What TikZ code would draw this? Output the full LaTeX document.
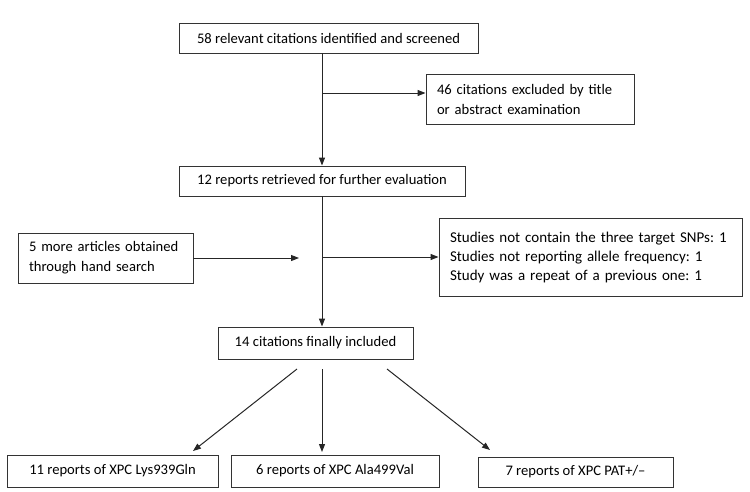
\documentclass[tikz,border=0pt]{standalone}
\usepackage{fontspec}
\setmainfont{Carlito}
\usetikzlibrary{arrows.meta}
\frenchspacing
\tikzset{
  box/.style={draw=black!80, line width=0.9pt, inner sep=0pt, align=center, font=\fontsize{14.6}{20}\selectfont},
  lbox/.style={draw=black!80, line width=0.9pt, inner xsep=11pt, inner ysep=0pt, font=\fontsize{14.6}{20}\selectfont},
  link/.style={->, draw=black!85, line width=1pt}
}
\begin{document}
\begin{tikzpicture}[>={Stealth[length=8pt,width=6pt,inset=0pt]},x=1pt,y=-1pt]
\useasboundingbox (0,0) rectangle (750,491);
\node[box, minimum width=299pt, minimum height=30pt] (n58) at (328.5,38) {58 relevant citations identified and screened};
\node[lbox, text width=186pt, align=left, minimum height=50pt] (n46) at (530,99) {\makebox[186pt][s]{46 citations excluded by title}\\or abstract examination};
\node[box, minimum width=286pt, minimum height=30pt] (n12) at (322,181) {12 reports retrieved for further evaluation};
\node[lbox, text width=153pt, align=left, minimum height=50pt] (nhand) at (105.5,258) {5 more articles obtained\\through hand search};
\node[lbox, text width=281pt, align=left, minimum height=78pt, font=\fontsize{15}{19}\selectfont] (nexcl) at (590.5,257) {Studies not contain the three target SNPs: 1\\Studies not reporting allele frequency: 1\\Study was a repeat of a previous one: 1};
\node[box, minimum width=195pt, minimum height=32pt] (n14) at (315.5,343) {14 citations finally included};
\node[box, minimum width=211pt, minimum height=32pt] (nlys) at (112.5,471) {11 reports of XPC Lys939Gln};
\node[box, minimum width=208pt, minimum height=32pt] (nala) at (335,471) {6 reports of XPC Ala499Val};
\node[box, minimum width=195pt, minimum height=30pt] (npat) at (575.5,472) {7 reports of XPC PAT+/–};
\coordinate (j1) at (322,93);
\coordinate (j2) at (322,257);
\coordinate (h) at (299,258);
\coordinate (s1) at (297,369);
\coordinate (s2) at (322,369);
\coordinate (s3) at (387,369);
\coordinate (t1) at (193,451);
\coordinate (t2) at (322,452);
\coordinate (t3) at (490,450);
\draw[link] (n58.south -| n12) -- (n12.north);
\draw[link] (j1) -- (j1 -| n46.west);
\draw[link] (n12.south) -- (n12.south |- n14.north);
\draw[link] (j2) -- (nexcl.west);
\draw[link] (nhand.east) -- (h);
\foreach \a/\b in {s1/t1,s2/t2,s3/t3}
  \draw[link] (\a) -- (\b);
\end{tikzpicture}
\end{document}
